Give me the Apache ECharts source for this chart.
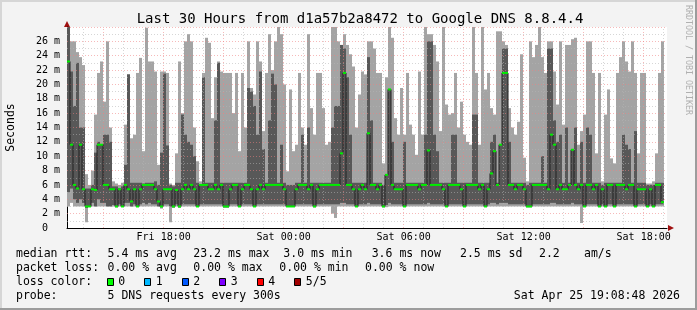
<!DOCTYPE html>
<html><head><meta charset="utf-8">
<script src="https://cdn.jsdelivr.net/npm/echarts@6/dist/echarts.min.js"></script>
<style>html,body{margin:0;padding:0;background:#f3f3f3}#c{width:697px;height:310px}</style>
</head><body><div id="c"></div>
<script>
// ---- time sampling (hours since Fri 00:00) ----
const startHour = 13 + 10 / 60;
const spanHours = 30;
const stepHours = 0.15;

// ---- smoke data per time step (ms): lowest ping, 2nd ping, median, 4th ping, highest ping ----
const pingLo = [3,3.5,3,3,3,3,0.8,3,3,3,3,3,3,3,3,3,2.9,3,3,3,3,3,3,3,3,3,3,3,3,3,3,2.7,3,3,0.8,2.8,3,2.8,3,3,
3,3,3,3,3,3,3,3,3,3,3,3,2.8,2.8,3,3,3,3,3,3,3,3,3,3,3,3,3,3,3,3,3,3,3,3,3,3,3,3,3,3,
3,3,2.9,3,3,3,3,3,2,1.4,3,3,3,3,3,3,3,3,3,3,3,3,3,3,3,2.9,2.9,3,3,3,3,3,3,3,3,3,3,3,3,3,
3,3,3,3,3,3,3,3,3,3,3,3,3,3,3,3,3,3,3,3,3,3,3,3,3,3,3,3,3,3,3,3,3,2.9,2.9,3,3,3,3,3,
3,3,3,3,3,3,3,3,3,3,3,0.7,3,3,3,3,3,3,3,3,3,3,3,3,3,3,3,3,3,3,3,3,3,3,3,3,3,3,3];
const pingLow2 = [5,5.5,4,3.5,4,3.5,2.8,3,3.5,3,4,3.5,3.5,3,3,3.2,2.9,3.3,3,3.5,3.5,3,3.3,3,3.3,3.5,3.3,3.5,3.3,3.3,3,2.9,3.3,3.3,3,2.9,3.3,2.9,3.3,3.3,
3.3,3.3,3.3,3,3.3,3.3,3.3,3.3,3.3,3.3,3.3,3.3,2.9,2.9,3.3,3.3,3.3,3,3.3,3.3,3.3,3.3,3,3.3,3.3,3.3,3.3,3.3,3.3,3.3,3.3,3.3,3.3,3,3,3,3.3,3.3,3.3,3.3,
3.3,3.3,2.9,3.3,3.3,3.3,3.3,3.3,3.3,3.3,3.3,3.5,3.5,3.3,3.3,3.3,3,3.3,3.3,3.3,3.5,3.3,3.3,3.3,3.3,2.9,3.2,3.5,3.3,3.3,3.3,3.3,3,3.3,3.3,3.3,3.3,3.3,3.3,3.3,
3.5,3.3,3.3,3.3,3.3,3.3,3,3.3,3.3,3.3,3.3,3.3,3,3.3,3.3,3.3,3.3,3.3,3.3,3,3.3,3.5,3.5,3.3,3.5,3.5,3.5,3.3,3.3,3.3,3.3,3.3,3.3,2.9,2.9,3.3,3.3,3.3,3.3,3.3,
3.3,3.5,3.5,3.3,3.3,3.3,3.3,3.3,3.5,3.3,3.3,3.3,3,3.3,3.3,3.3,3.3,3,3.3,3,3.3,3.3,3,3.3,3.3,3.3,3.3,3.3,3.3,3,3.3,3.3,3.3,3,3.3,3,3.3,3.3,3.3];
const pingMedian = [23.2,11.6,6,5.5,11.6,5.4,3,3,5.4,5.3,11.6,11.6,6,6,5.4,5.4,3,5.4,3,6,5.4,3.7,5.4,3,5.4,6,6,6,6,5.4,3.7,3,5.4,5.4,5.4,3,5.3,3,5.4,6,
5.4,6,5.4,3,6,6,6,5.4,5.4,6,5.4,6,3,3,5.4,6,6,3,5.4,6,6,5.4,3,5.4,6,5.4,6,6,6,6,6,6,5.4,3,3,3,5.4,6,6,6,
5.4,6,3,5.4,6,6,6,6,6,6,6,10.4,21.6,6,6,5.4,3,5.4,6,5.4,13.2,6,6,5.4,6,3,7.4,19.3,6,5.4,5.4,5.4,3,6,6,6,6,5.4,6,6,
10.8,6,6,6,6,5.4,3,6,6,6,6,5.4,3,6,6,6,6,5.4,6,3,5.4,7.6,10.7,6,11.6,21.6,21.6,6,6,5.4,6,6,5.4,3,3,6,6,6,6,6,
5.4,13,11.6,5.4,6,5.4,5.4,6,10.9,6,5.4,6,3,6,6,5.4,6,3,5.4,3,6,6,3,6,6,6,5.4,6,6,3,5.4,5.4,5.4,3,5.4,3,6,6,3.6];
const pingHigh2 = [28,21.8,17,23,14,14,5.5,5.5,6,10.5,12,11.6,13,13,12,5.8,5.8,5.5,5.8,8.8,21.4,6.3,6.3,6.3,6.3,6.2,6.3,6.3,6.3,6.5,6,10.5,21.5,11.5,6,5.8,6.3,6.3,15.8,13,
12,11.6,10,6.3,6,21,6.3,6.3,6.3,15,23,6.3,6.3,6.3,6.3,6.3,6.3,6.3,6.3,6.3,19.5,19,17,13,21.8,11,6.3,15,21.5,20,6.3,11.6,6.3,6,6,6,6.3,6.3,13,6.3,
14,6.3,6.3,6.3,6.3,6.3,6.3,6.3,14,17,17,25.5,25,21,13,6.3,6.3,6.3,6.3,6.3,23.8,15,6.3,6.3,6.3,6,7.5,19.3,12,6.3,6.3,6.3,12,6.3,6.3,6.3,6.3,6.3,6.3,13,
26,26,13,10.7,6.3,6.3,6.3,6.3,13,13,6.3,6.3,6.3,6.3,6.3,15.8,15.8,6.3,6.3,6.3,6.3,12,13,6.3,11.6,25,25,12,6.3,6.3,6.3,6.3,6.3,6,6.3,6.3,6.3,6.3,10,6.3,
25,25,15,12,13,6.3,14,6.3,11,14,6.3,12,6.3,14,13,6.3,6.3,6.3,6,6.3,6.3,6.3,6.3,6.3,6.3,13,11.6,11,6.3,13.5,6.3,6.3,6.3,6,6,6,6.3,6.3,6.3];
const pingHi = [28,26,26,24.5,23.8,22.7,7.5,6,8,15.8,21.6,23.2,17.6,26,14,6.5,6.2,6,6.3,14.4,21.4,12.5,13,21.6,23.7,10.7,27.9,23.2,23.2,21.8,8.8,21.8,21.8,21.6,6.2,6,10.4,23.2,16,26,
27,26,14,9.3,6.5,21.6,26.5,25.8,15.3,21,23.2,21.8,21.6,21.6,21.6,16,21.6,10.7,21.6,14,26,19.5,18.6,26,23.2,13.5,21.6,27,22,26,28,27,20,7.9,19.3,10.7,11.6,21.6,14,11.6,
27,16.7,13,21.6,21.6,16.7,11.6,12,28,28,26,25.5,27,25.5,24.2,22.5,14,18.6,21.8,21.4,26,26,25,21.6,21.6,9,21,28,26.5,15.3,13,19.5,13,21.6,14.4,13,10.2,21.8,13,28,
27,27,25.5,23.2,13.5,28,17.2,15.8,16,21.6,14,17.6,13,12,11.6,28,21.6,11.6,28,19.3,21.6,16.7,15.8,27.4,27.4,26,25.5,16.7,14,13,14.8,24.2,9.8,6.5,26,23.8,25.5,28,23.8,21.6,
26,26,21.8,17.2,26,14.4,25.5,25.5,26.3,26.5,11.6,13.5,15.8,26,26,21.6,10.4,21.6,6.5,15.8,19.3,9.7,9,21.6,23.8,26,23.2,21.8,26,21.6,10.4,21.6,21.6,6.2,6.2,6.5,10.4,21.6,26];

// ---- axes text ----
const yTicks = [0,2,4,6,8,10,12,14,16,18,20,22,24,26];
const xTickHours = [18,24,30,36,42];
const xTickLabels = ['Fri 18:00','Sat 00:00','Sat 06:00','Sat 12:00','Sat 18:00'];
const titleText = 'Last 30 Hours from d1a57b2a8472 to Google DNS 8.8.4.4';
const yName = 'Seconds';

// ---- legend text ----
const rttRow = ['median rtt:','5.4 ms avg','23.2 ms max','3.0 ms min','3.6 ms now','2.5 ms sd','2.2','am/s'];
const lossRow = ['packet loss:','0.00 % avg','0.00 % max','0.00 % min','0.00 % now'];
const lossColorLabels = ['0','1','2','3','4','5/5'];
const lossColors = ['#00ff00','#00b8ff','#0059ff','#7e00ff','#ff0000','#a10000'];
const probeRow = ['probe:','5 DNS requests every 300s'];
const stampText = 'Sat Apr 25 19:08:48 2026';

// ---------------------------------------------------------------
const MONO = "'DejaVu Sans Mono', monospace";
const G = {left: 67, top: 27, width: 600, height: 201};

const smokeData = pingLo.map((v, i) => [startHour + i * stepHours, v, pingLow2[i], pingHigh2[i], pingHi[i]]);
const medData = pingMedian.map((v, i) => [startHour + i * stepHours, v]);
const medLine = medData.concat([[startHour + pingMedian.length * stepHours, pingMedian[pingMedian.length - 1]]]);

const MAJ = 'rgba(238,127,127,0.55)', MIN = 'rgba(180,180,180,0.55)';
const gridLines = [];
for (let h = Math.ceil(startHour); h < startHour + spanHours; h++) {
  const major = h % 3 === 0;
  const k = xTickHours.indexOf(h);
  gridLines.push({
    xAxis: h,
    lineStyle: {color: major ? MAJ : MIN, type: [1, 2], width: 1},
    label: k >= 0 ? {show: true, position: 'start', distance: 4, formatter: xTickLabels[k],
      color: '#000', fontFamily: MONO, fontSize: 10} : {show: false}
  });
}
for (let v = 1; v <= 28; v++) {
  gridLines.push({yAxis: v, lineStyle: {color: v % 2 === 0 ? MAJ : MIN, type: [1, 2], width: 1}, label: {show: false}});
}

const chart = echarts.init(document.getElementById('c'), null, {renderer: 'canvas'});

const texts = [];
function txt(x, y, s, extra) {
  texts.push(Object.assign({type: 'text', x: x, y: y, silent: true,
    style: Object.assign({text: s, fill: '#000', font: '11.5px ' + MONO, textVerticalAlign: 'middle'}, extra || {})}));
}
texts.push({type: 'text', x: 360, y: 19, style: {text: titleText, fill: '#000', font: '14px ' + MONO, textAlign: 'center', textVerticalAlign: 'middle'}});
texts.push({type: 'text', x: 11, y: 127.5, rotation: Math.PI / 2, style: {text: yName, fill: '#000', font: '11.5px ' + MONO, textAlign: 'center', textVerticalAlign: 'middle'}});
texts.push({type: 'text', x: 688, y: 60, rotation: -Math.PI / 2, style: {text: 'RRDTOOL / TOBI OETIKER', fill: '#b0b0b0', font: '8.3px ' + MONO, textAlign: 'center', textVerticalAlign: 'middle'}});
const rttX = [16, 107.6, 193.3, 283.3, 371.7, 460, 539, 584];
rttRow.forEach((s, i) => txt(rttX[i], 254, s));
const lossX = [16, 107.6, 193.3, 279.3, 365];
lossRow.forEach((s, i) => txt(lossX[i], 268, s));
txt(16, 282, 'loss color:');
const boxX = [106.7, 144.2, 181.7, 219.2, 256.7, 294.2];
lossColorLabels.forEach((s, i) => {
  texts.push({type: 'rect', shape: {x: Math.round(boxX[i]) + 0.5, y: 278.5, width: 6, height: 7}, style: {fill: lossColors[i], stroke: '#000', lineWidth: 1}});
  txt(boxX[i] + 11.6, 282, s);
});
txt(16, 296, probeRow[0]);
txt(107.6, 296, probeRow[1]);
txt(680, 296, stampText, {textAlign: 'right'});
texts.push({type: 'polygon', shape: {points: [[G.left - 3, 27], [G.left + 3, 27], [G.left, 21]]}, style: {fill: '#a01010'}});
texts.push({type: 'polygon', shape: {points: [[G.left + G.width + 1, 225], [G.left + G.width + 1, 231], [G.left + G.width + 7, 228]]}, style: {fill: '#a01010'}});
texts.push({type: 'rect', shape: {x: 0, y: 0, width: 697, height: 2}, style: {fill: '#d6d6d6'}});
texts.push({type: 'rect', shape: {x: 0, y: 0, width: 2, height: 310}, style: {fill: '#d6d6d6'}});
texts.push({type: 'rect', shape: {x: 695, y: 0, width: 2, height: 310}, style: {fill: '#9c9c9c'}});
texts.push({type: 'rect', shape: {x: 0, y: 308, width: 697, height: 2}, style: {fill: '#9c9c9c'}});

chart.setOption({
  animation: false,
  backgroundColor: '#f3f3f3',
  grid: Object.assign({show: true, backgroundColor: '#ffffff', borderWidth: 0}, G),
  xAxis: {
    type: 'value', min: startHour, max: startHour + spanHours,
    axisLine: {show: true, onZero: false, lineStyle: {color: '#000', width: 1}},
    axisTick: {show: false}, axisLabel: {show: false}, splitLine: {show: false}
  },
  yAxis: {
    type: 'value', min: 0, max: 28, interval: 2,
    axisLine: {show: true, lineStyle: {color: '#000', width: 1}},
    axisTick: {show: false},
    splitLine: {show: false},
    axisLabel: {
      margin: 7, color: '#000', fontFamily: MONO, fontSize: 10,
      formatter: v => (yTicks.indexOf(v) < 0 ? '' : (v === 0 ? '0  ' : v + ' m'))
    }
  },
  graphic: texts,
  series: [
    {
      type: 'custom', name: 'smoke', z: 1, data: smokeData,
      encode: {x: 0, y: [1, 2, 3, 4]},
      renderItem: function (params, api) {
        const t = api.value(0);
        const a = api.coord([t, api.value(1)]);
        const b = api.coord([t + stepHours, api.value(4)]);
        const c = api.coord([t, api.value(2)]);
        const d = api.coord([t + stepHours, api.value(3)]);
        return {type: 'group', children: [
          {type: 'rect', shape: {x: a[0], y: b[1], width: b[0] - a[0], height: a[1] - b[1]}, style: {fill: '#a4a4a4'}},
          {type: 'rect', shape: {x: c[0], y: d[1], width: d[0] - c[0], height: c[1] - d[1]}, style: {fill: '#585858'}}
        ]};
      }
    },
    {
      type: 'line', name: 'grid', z: 2, data: [], silent: true,
      markLine: {silent: true, z: 2, symbol: ['none', 'none'], animation: false, data: gridLines}
    },
    {
      type: 'line', name: 'median', z: 3, data: medLine, step: 'end', showSymbol: false, symbol: 'none',
      lineStyle: {color: '#202020', width: 1}
    },
    {
      type: 'custom', name: 'loss0', z: 4, data: medData,
      encode: {x: 0, y: 1},
      renderItem: function (params, api) {
        const t = api.value(0);
        const a = api.coord([t, api.value(1)]);
        const b = api.coord([t + stepHours, api.value(1)]);
        return {type: 'rect', shape: {x: a[0], y: a[1] - 1, width: b[0] - a[0], height: 2}, style: {fill: '#00ee00'}};
      }
    }
  ]
});
</script></body></html>
